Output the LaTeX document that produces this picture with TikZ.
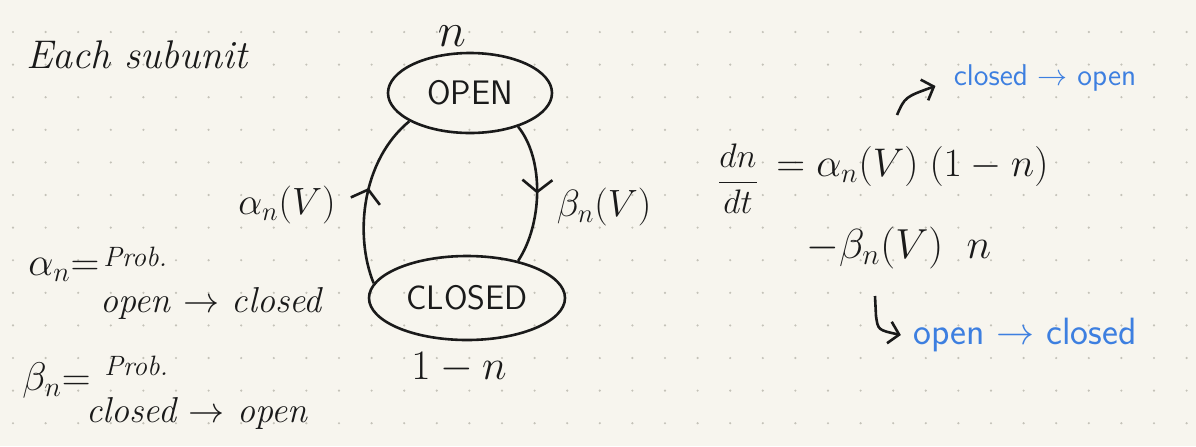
\documentclass[tikz,border=0pt]{standalone}
\usepackage{fix-cm}
\usetikzlibrary{shapes.geometric,arrows.meta,decorations.markings}
\definecolor{paper}{HTML}{F7F5EE}
\definecolor{dotc}{HTML}{C4C2B8}
\definecolor{ink}{HTML}{1A1A1A}
\definecolor{note}{HTML}{3D7FE0}
\newcommand\fsz[1]{\fontsize{#1}{#1}\selectfont}
\tikzset{
  state/.style={draw=ink, ellipse, line width=1.3pt, inner sep=0pt, text=ink, font=\sffamily\fsz{17}},
  hand/.style={text=ink, inner sep=0pt},
  bluenote/.style={text=note, inner sep=0pt},
  flow/.style={draw=ink, line width=1.3pt},
  midarrow/.style={postaction={decorate}, decoration={markings, mark=at position #1 with {\arrow{Straight Barb[length=6pt,width=15pt,line width=1.3pt]}}}},
  tip/.style={-{Straight Barb[length=5pt,width=11pt]}},
}
\begin{document}
\begin{tikzpicture}[x=0.5pt,y=-0.5pt]
\fill[paper] (0,0) rectangle (1196,446);
\useasboundingbox (0,0) rectangle (1196,446);
\foreach \i in {0,...,36} {\foreach \j in {0,...,12} {\fill[dotc] (13+32.6*\i,32+32.6*\j) circle (0.6pt);}}
% title
\node[hand, font=\itshape\fsz{20}] (each) at (137,55) {Each subunit};
% states
\node[state, minimum width=82pt, minimum height=40pt] (open) at (470,93) {OPEN};
\node[state, minimum width=98pt, minimum height=42pt] (closed) at (467,298) {CLOSED};
\node[hand, font=\fsz{24}] (nopen) at (452,36) {$n$};
\node[hand, font=\fsz{21}] (nclosed) at (459,368) {$1-n$};
% transitions
\draw[flow, midarrow=0.55] (closed.171) .. controls (354,235) and (362,160) .. (open.205);
\draw[flow, midarrow=0.5] (open.-35) .. controls (545,160) and (542,225) .. (closed.36);
\node[hand, font=\fsz{19}] (alab) at (287,205) {$\alpha_n(V)$};
\node[hand, font=\fsz{19}] (blab) at (604,207) {$\beta_n(V)$};
% definitions
\node[hand, anchor=west, font=\fsz{20}] (adef) at (28,270) {$\alpha_n{=}$};
\node[hand, anchor=west, font=\itshape\fsz{14}] (aprob) at (103,257) {Prob.};
\node[hand, anchor=west, font=\itshape\fsz{18}] (adir) at (100,303) {open $\to$ closed};
\node[hand, anchor=west, font=\fsz{20}] (bdef) at (22,380) {$\beta_n{=}$};
\node[hand, anchor=west, font=\itshape\fsz{14}] (bprob) at (104,366) {Prob.};
\node[hand, anchor=west, font=\itshape\fsz{18}] (bdir) at (86,413) {closed $\to$ open};
% equation
\node[hand, font=\fsz{17}] (frac) at (738,179) {$\displaystyle\frac{dn}{dt}$};
\node[hand, anchor=west, font=\fsz{20}] (rhs1) at (776,166) {$=\alpha_n(V)\;(1-n)$};
\node[hand, anchor=west, font=\fsz{21}] (rhs2) at (806,248) {$-\beta_n(V)\;\;n$};
% blue notes
\node[bluenote, font=\sffamily\fsz{15}] (co) at (1045,78) {closed $\to$ open};
\node[bluenote, font=\sffamily\fsz{19}] (oc) at (1025,335) {open $\to$ closed};
\coordinate (s1) at (897,115);
\coordinate (s2) at (875,296);
\draw[flow, tip] (s1) .. controls (905,97) .. ([xshift=-9pt,yshift=-4pt]co.west);
\draw[flow, tip] (s2) -- (876,316) .. controls (878,330) .. ([xshift=-6pt]oc.west);
\end{tikzpicture}
\end{document}
